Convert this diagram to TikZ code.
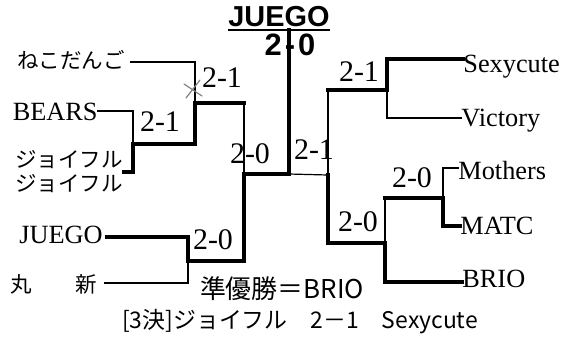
\documentclass[tikz,border=0pt]{standalone}
\usepackage{fontspec}
\setmainfont{Liberation Serif}
\newfontfamily\jpfont{Noto Sans CJK JP}
\newfontfamily\hdfont{Liberation Sans}
\usetikzlibrary{positioning,calc}

\begin{document}
\begin{tikzpicture}[x=0.5bp, y=-0.5bp, line join=miter, line cap=rect,
    loseline/.style={line width=0.6bp},
    midline/.style={line width=1.1bp},
    winline/.style={line width=1.6bp},
    team/.style={inner sep=0pt, font=\fontsize{13.2}{14}\selectfont},
    jteam/.style={inner sep=0pt, font=\jpfont\fontsize{10.8}{12}\selectfont},
    score/.style={inner sep=0pt, font=\fontsize{15}{16}\selectfont}]
  \useasboundingbox (0,0) rectangle (581,348);
  %%
  % Node: title
  \node[inner sep=0pt, font=\hdfont\bfseries\fontsize{14.5}{16}\selectfont] (title) at (279,17) {JUEGO};
  \node[inner sep=0pt, font=\hdfont\bfseries\fontsize{15.5}{16}\selectfont] (final) at (290,45) {2\kern1.5pt-\kern1.5pt0};
  %
  % Node: left teams
  \node[jteam, anchor=east] (neko) at (125,60) {ねこだんご};
  \node[team, anchor=base east] (bears) at (98,120) {BEARS};
  \node[jteam, anchor=west, align=left] (joyful) at (15,172) {ジョイフル\\ジョイフル};
  \node[team, anchor=base east] (juego) at (103,243) {JUEGO};
  \node[jteam, anchor=east] (maru) at (97,284) {丸　　新};
  %
  % Node: right teams
  \node[team, anchor=base west] (sexy) at (463,72) {Sexycute};
  \node[team, anchor=base west] (victory) at (461,126) {Victory};
  \node[team, anchor=base west] (mothers) at (458,179) {Mothers};
  \node[team, anchor=base west] (matc) at (460,234) {MATC};
  \node[team, anchor=base west] (brio) at (462,287) {BRIO};
  %
  % Node: scores
  \node[score] (sA) at (160,122) {2-1};
  \node[score] (sB) at (222,78) {2-1};
  \node[score] (sC) at (250,154) {2-0};
  \node[score] (sD) at (213,240) {2-0};
  \node[score] (sE) at (314,150) {2-1};
  \node[score] (sF) at (359,72) {2-1};
  \node[score] (sG) at (358,222) {2-0};
  \node[score] (sH) at (412,178) {2-0};
  %
  % Node: results
  \node[inner sep=0pt, font=\jpfont\fontsize{13}{14}\selectfont] (runner) at (282,289) {準優勝＝BRIO};
  \node[inner sep=0pt, font=\jpfont\fontsize{11.5}{13}\selectfont] (third) at (300,322) {[3決]ジョイフル　2－1　Sexycute};
  %
  % Coordinate: left block
  \coordinate (a1) at (133,111);
  \coordinate (a2) at (a1 |- joyful.east);
  \coordinate (a3) at (133,144);
  \coordinate (b1) at (195,62);
  \coordinate (b2) at (195,144);
  \coordinate (b3) at (195,103);
  \coordinate (c1) at (244,103);
  \coordinate (c2) at (244,261);
  \coordinate (c3) at (244,174);
  \coordinate (d1) at (188,237);
  \coordinate (d2) at (188,283);
  \coordinate (d3) at (188,261);
  \coordinate (f0) at (289,174);
  \coordinate (top) at (289,30);
  % Coordinate: right block
  \coordinate (e1) at (328,90);
  \coordinate (e2) at (328,243);
  \coordinate (e3) at (328,175);
  \coordinate (g1) at (387,59);
  \coordinate (g2) at (387,118);
  \coordinate (g3) at (387,90);
  \coordinate (h1) at (385,198);
  \coordinate (h2) at (385,282);
  \coordinate (h3) at (385,243);
  \coordinate (k1) at (443,168);
  \coordinate (k2) at (443,226);
  \coordinate (k3) at (443,198);
  %
  % Edge: title rule
  \draw[line width=1.1bp, line cap=butt] (title.south west |- top) -- (title.south east |- top);
  %
  % Edge: left side
  \draw[winline] ([xshift=2]d1 -| juego.east) -- (d1) -- (d3) -- (c2) -- (c3) -- (f0) -- (top);
  \draw[loseline] (d3) -- (d2) -- ([xshift=4]d2 -| maru.east);
  \draw[winline] (a2 -| joyful.east) -- (a2) -- (a3) -- (b2) -- (b3) -- (c1);
  \draw[loseline] (c1) -- (c3);
  \draw[loseline] (a1 -| bears.east) -- (a1) -- (a3);
  \draw[midline] ([xshift=3]b1 -| neko.east) -- (b1) -- (b3);
  %
  % Edge: right side
  \draw[winline] (h2 -| brio.west) -- (h2) -- (h3) -- (e2) -- (e3);
  \draw[loseline] (e3) -- (f0);
  \draw[winline] (g1 -| sexy.west) -- (g1) -- (g3) -- (e1);
  \draw[loseline] (e1) -- (e3);
  \draw[loseline] (g2 -| victory.west) -- (g2) -- (g3);
  \draw[winline] (k2 -| matc.west) -- (k2) -- (k3) -- (h1);
  \draw[loseline] (h1) -- (h3);
  \draw[loseline] (k1 -| mothers.west) -- (k1) -- (k3);
  %
  % correction mark
  \draw[gray, line width=0.6bp, line cap=round] (184,84) -- (202,96) (186,98) -- (200,80);
  %
\end{tikzpicture}
\end{document}
